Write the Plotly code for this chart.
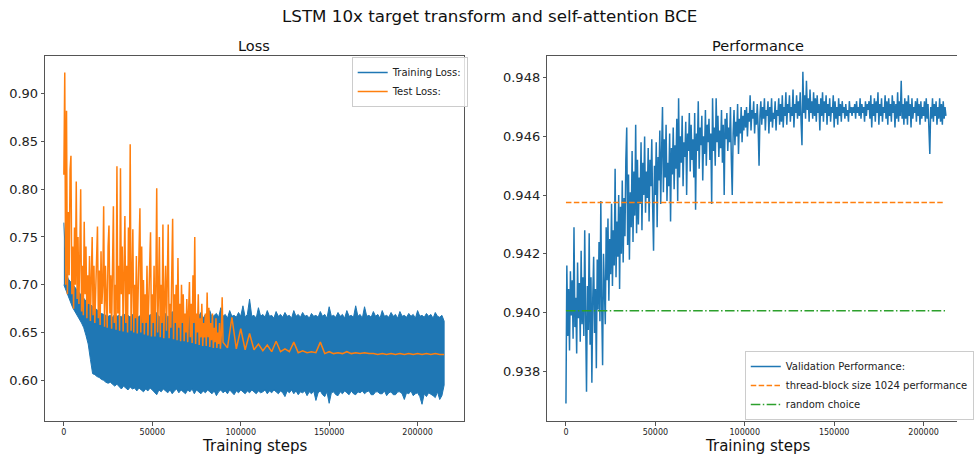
import plotly.graph_objects as go

# ---------------- data ----------------
# Training loss: dense band, read as upper / lower envelope every 1250 steps
train_steps = list(range(0, 215001, 1250))
train_upper = [
    0.765, 0.712, 0.706, 0.703, 0.700, 0.697, 0.694, 0.691, 0.688, 0.686,
    0.683, 0.681, 0.679, 0.677, 0.675, 0.673, 0.672, 0.670, 0.669, 0.668,
    0.667, 0.668, 0.666, 0.669, 0.667, 0.668, 0.666, 0.670, 0.667, 0.668,
    0.666, 0.669, 0.667, 0.668, 0.666, 0.670, 0.667, 0.668, 0.666, 0.669,
    0.667, 0.668, 0.671, 0.666, 0.668, 0.667, 0.670, 0.666, 0.668, 0.672,
    0.666, 0.669, 0.667, 0.674, 0.666, 0.668, 0.670, 0.667, 0.672, 0.666,
    0.668, 0.667, 0.671, 0.665, 0.669, 0.667, 0.673, 0.666, 0.668, 0.670,
    0.666, 0.676, 0.667, 0.669, 0.665, 0.673, 0.667, 0.668, 0.666, 0.671,
    0.667, 0.678, 0.666, 0.669, 0.685, 0.667, 0.668, 0.665, 0.676, 0.667,
    0.669, 0.666, 0.673, 0.667, 0.668, 0.665, 0.672, 0.667, 0.669, 0.666,
    0.671, 0.667, 0.668, 0.665, 0.673, 0.667, 0.669, 0.666, 0.671, 0.667,
    0.668, 0.665, 0.670, 0.667, 0.668, 0.666, 0.672, 0.667, 0.669, 0.665,
    0.677, 0.667, 0.668, 0.666, 0.671, 0.667, 0.669, 0.665, 0.673, 0.667,
    0.668, 0.666, 0.678, 0.667, 0.669, 0.665, 0.677, 0.667, 0.668, 0.666,
    0.672, 0.667, 0.669, 0.665, 0.673, 0.667, 0.668, 0.666, 0.671, 0.667,
    0.669, 0.665, 0.672, 0.667, 0.668, 0.666, 0.670, 0.667, 0.669, 0.665,
    0.673, 0.667, 0.668, 0.666, 0.670, 0.667, 0.669, 0.665, 0.671, 0.667,
    0.666, 0.668, 0.662,
]
train_lower = [
    0.700, 0.694, 0.688, 0.682, 0.676, 0.672, 0.668, 0.664, 0.660, 0.655,
    0.647, 0.638, 0.622, 0.607, 0.606, 0.604, 0.603, 0.601, 0.600, 0.598,
    0.597, 0.598, 0.596, 0.594, 0.596, 0.593, 0.591, 0.594, 0.592, 0.590,
    0.593, 0.591, 0.592, 0.589, 0.592, 0.590, 0.588, 0.591, 0.589, 0.592,
    0.590, 0.588, 0.585, 0.590, 0.588, 0.591, 0.589, 0.587, 0.590, 0.586,
    0.589, 0.591, 0.587, 0.590, 0.588, 0.586, 0.590, 0.588, 0.591, 0.586,
    0.590, 0.588, 0.586, 0.589, 0.587, 0.590, 0.588, 0.586, 0.589, 0.584,
    0.588, 0.590, 0.587, 0.589, 0.586, 0.590, 0.588, 0.585, 0.589, 0.587,
    0.590, 0.588, 0.586, 0.589, 0.587, 0.590, 0.588, 0.586, 0.589, 0.587,
    0.588, 0.590, 0.586, 0.589, 0.587, 0.590, 0.588, 0.586, 0.589, 0.587,
    0.583, 0.589, 0.587, 0.590, 0.586, 0.589, 0.585, 0.588, 0.587, 0.589,
    0.584, 0.588, 0.586, 0.589, 0.579, 0.587, 0.589, 0.585, 0.583, 0.588,
    0.576, 0.587, 0.588, 0.585, 0.584, 0.588, 0.586, 0.589, 0.587, 0.585,
    0.589, 0.586, 0.585, 0.588, 0.587, 0.589, 0.586, 0.588, 0.589, 0.585,
    0.585, 0.588, 0.588, 0.586, 0.586, 0.589, 0.584, 0.587, 0.588, 0.585,
    0.585, 0.588, 0.588, 0.586, 0.580, 0.587, 0.586, 0.589, 0.584, 0.586,
    0.587, 0.583, 0.575, 0.586, 0.583, 0.587, 0.586, 0.584, 0.582, 0.588,
    0.580, 0.584, 0.595,
]

# Test loss: every 500 steps up to 89500, then every 2500 steps
test_steps = list(range(0, 90000, 500)) + list(range(90000, 215001, 2500))
test_loss = [
    # 0 - 9500
    0.815, 0.922, 0.700, 0.882, 0.690, 0.776, 0.710, 0.820, 0.835, 0.690,
    0.740, 0.675, 0.760, 0.700, 0.808, 0.685, 0.750, 0.680, 0.730, 0.800,
    # 10000 - 19500
    0.672, 0.720, 0.668, 0.766, 0.690, 0.740, 0.665, 0.710, 0.680, 0.730,
    0.662, 0.700, 0.750, 0.668, 0.720, 0.660, 0.690, 0.740, 0.761, 0.665,
    # 20000 - 29500
    0.715, 0.658, 0.735, 0.680, 0.700, 0.782, 0.656, 0.720, 0.690, 0.655,
    0.740, 0.762, 0.670, 0.710, 0.654, 0.730, 0.782, 0.660, 0.700, 0.653,
    # 30000 - 39500
    0.824, 0.670, 0.720, 0.652, 0.822, 0.690, 0.740, 0.651, 0.700, 0.772,
    0.660, 0.720, 0.650, 0.760, 0.690, 0.847, 0.652, 0.710, 0.758, 0.650,
    # 40000 - 49500
    0.700, 0.665, 0.730, 0.649, 0.690, 0.720, 0.780, 0.650, 0.740, 0.660,
    0.705, 0.648, 0.690, 0.660, 0.720, 0.647, 0.680, 0.700, 0.755, 0.646,
    # 50000 - 59500
    0.690, 0.660, 0.720, 0.646, 0.700, 0.801, 0.650, 0.690, 0.750, 0.645,
    0.700, 0.660, 0.763, 0.644, 0.690, 0.720, 0.652, 0.700, 0.763, 0.644,
    # 60000 - 69500
    0.680, 0.655, 0.710, 0.769, 0.643, 0.690, 0.660, 0.700, 0.642, 0.728,
    0.655, 0.680, 0.641, 0.700, 0.660, 0.690, 0.641, 0.670, 0.650, 0.685,
    # 70000 - 79500
    0.640, 0.675, 0.703, 0.645, 0.680, 0.639, 0.710, 0.660, 0.750, 0.638,
    0.670, 0.650, 0.690, 0.637, 0.665, 0.645, 0.680, 0.636, 0.660, 0.645,
    # 80000 - 89500
    0.670, 0.636, 0.692, 0.645, 0.676, 0.635, 0.660, 0.642, 0.670, 0.634,
    0.655, 0.640, 0.665, 0.634, 0.650, 0.638, 0.660, 0.633, 0.648, 0.687,
    # from 90000, every 2500
    0.640, 0.634, 0.666, 0.633, 0.654, 0.632, 0.649, 0.632, 0.638, 0.631,
    0.637, 0.630, 0.641, 0.630, 0.633, 0.630, 0.640, 0.629, 0.631, 0.629,
    0.630, 0.629, 0.640, 0.628, 0.630, 0.628, 0.629, 0.628, 0.630, 0.628,
    0.629, 0.628, 0.629, 0.628, 0.628, 0.627, 0.628, 0.627, 0.628, 0.627,
    0.628, 0.627, 0.628, 0.627, 0.628, 0.627, 0.628, 0.627, 0.628, 0.627,
    0.627,
]

# Validation performance every 500 steps
val_steps = list(range(0, 212501, 500))
val_perf = [
    0.9369, 0.9416, 0.9392, 0.9408, 0.9387, 0.9414, 0.9399, 0.9411, 0.9391, 0.9429,
    0.9395, 0.9405, 0.9386, 0.9417, 0.9398, 0.9410, 0.9390, 0.9421, 0.9396, 0.9412,
    0.9392, 0.9428, 0.9399, 0.9373, 0.9409, 0.9394, 0.9427, 0.9389, 0.9412, 0.9376,
    0.9405, 0.9419, 0.9393, 0.9408, 0.9381, 0.9418, 0.9401, 0.9424, 0.9397, 0.9438,
    0.9402, 0.9382, 0.9420, 0.9405, 0.9396, 0.9429, 0.9411, 0.9432, 0.9404, 0.9425,
    0.9413, 0.9437, 0.9409, 0.9428, 0.9416, 0.9449, 0.9412, 0.9431, 0.9419, 0.9440,
    0.9408, 0.9436, 0.9420, 0.9445, 0.9417, 0.9439, 0.9426, 0.9452, 0.9463, 0.9423,
    0.9447, 0.9418, 0.9441, 0.9429, 0.9455, 0.9424, 0.9448, 0.9433, 0.9464, 0.9427,
    0.9452, 0.9430, 0.9446, 0.9437, 0.9458, 0.9428, 0.9451, 0.9440, 0.9460, 0.9434,
    0.9448, 0.9439, 0.9456, 0.9431, 0.9452, 0.9443, 0.9459, 0.9436, 0.9421, 0.9450,
    0.9440, 0.9458, 0.9429, 0.9453, 0.9445, 0.9462, 0.9437, 0.9455, 0.9470, 0.9441,
    0.9459, 0.9446, 0.9464, 0.9438, 0.9451, 0.9443, 0.9461, 0.9431, 0.9456, 0.9447,
    0.9463, 0.9442, 0.9457, 0.9449, 0.9466, 0.9438, 0.9473, 0.9446, 0.9460, 0.9451,
    0.9467, 0.9443, 0.9458, 0.9453, 0.9465, 0.9440, 0.9461, 0.9455, 0.9468, 0.9448,
    0.9464, 0.9452, 0.9459, 0.9446, 0.9468, 0.9435, 0.9461, 0.9455, 0.9472, 0.9449,
    0.9463, 0.9457, 0.9467, 0.9445, 0.9460, 0.9454, 0.9469, 0.9450, 0.9464, 0.9458,
    0.9466, 0.9452, 0.9461, 0.9437, 0.9473, 0.9455, 0.9463, 0.9450, 0.9473, 0.9458,
    0.9467, 0.9453, 0.9462, 0.9456, 0.9469, 0.9451, 0.9464, 0.9440, 0.9466, 0.9459,
    0.9468, 0.9455, 0.9463, 0.9458, 0.9470, 0.9452, 0.9440, 0.9461, 0.9469, 0.9457,
    0.9465, 0.9460, 0.9471, 0.9454, 0.9466, 0.9461, 0.9470, 0.9458, 0.9467, 0.9462,
    0.9469, 0.9463, 0.9470, 0.9460, 0.9468, 0.9465, 0.9474, 0.9462, 0.9469, 0.9466,
    0.9472, 0.9461, 0.9468, 0.9464, 0.9471, 0.9463, 0.9450, 0.9467, 0.9472, 0.9464,
    0.9470, 0.9466, 0.9473, 0.9462, 0.9469, 0.9467, 0.9472, 0.9461, 0.9470, 0.9465,
    0.9473, 0.9463, 0.9468, 0.9466, 0.9472, 0.9462, 0.9469, 0.9467, 0.9473, 0.9464,
    0.9471, 0.9465, 0.9474, 0.9463, 0.9470, 0.9467, 0.9475, 0.9464, 0.9471, 0.9468,
    0.9474, 0.9465, 0.9470, 0.9467, 0.9476, 0.9463, 0.9471, 0.9468, 0.9474, 0.9466,
    0.9472, 0.9467, 0.9475, 0.9465, 0.9457, 0.9482, 0.9468, 0.9474, 0.9466, 0.9479,
    0.9469, 0.9473, 0.9465, 0.9476, 0.9468, 0.9472, 0.9466, 0.9475, 0.9467, 0.9473,
    0.9465, 0.9474, 0.9468, 0.9471, 0.9462, 0.9473, 0.9467, 0.9475, 0.9465, 0.9472,
    0.9468, 0.9474, 0.9464, 0.9471, 0.9467, 0.9473, 0.9465, 0.9470, 0.9468, 0.9474,
    0.9463, 0.9472, 0.9466, 0.9470, 0.9464, 0.9473, 0.9467, 0.9471, 0.9465, 0.9472,
    0.9468, 0.9470, 0.9466, 0.9471, 0.9467, 0.9469, 0.9465, 0.9472, 0.9468, 0.9470,
    0.9467, 0.9470, 0.9468, 0.9471, 0.9466, 0.9472, 0.9468, 0.9470, 0.9467, 0.9473,
    0.9466, 0.9471, 0.9468, 0.9470, 0.9465, 0.9472, 0.9467, 0.9471, 0.9469, 0.9472,
    0.9466, 0.9474, 0.9463, 0.9471, 0.9467, 0.9473, 0.9465, 0.9472, 0.9468, 0.9475,
    0.9464, 0.9471, 0.9467, 0.9473, 0.9465, 0.9470, 0.9468, 0.9474, 0.9466, 0.9472,
    0.9464, 0.9473, 0.9467, 0.9471, 0.9465, 0.9474, 0.9468, 0.9472, 0.9463, 0.9471,
    0.9466, 0.9475, 0.9465, 0.9472, 0.9467, 0.9479, 0.9466, 0.9471, 0.9464, 0.9473,
    0.9466, 0.9472, 0.9464, 0.9474, 0.9467, 0.9471, 0.9463, 0.9473, 0.9466, 0.9470,
    0.9468, 0.9472, 0.9465, 0.9473, 0.9467, 0.9471, 0.9464, 0.9472, 0.9466, 0.9470,
    0.9467, 0.9472, 0.9465, 0.9473, 0.9466, 0.9471, 0.9464, 0.9454, 0.9470, 0.9466,
    0.9473, 0.9465, 0.9471, 0.9467, 0.9472, 0.9464, 0.9470, 0.9466, 0.9473, 0.9465,
    0.9471, 0.9464, 0.9472, 0.9466, 0.9470, 0.9467,
]

# reference lines
ref_steps = [0, 212000]
thread_block_perf = 0.94375
random_choice_perf = 0.94006

x_tick_vals = [0, 50000, 100000, 150000, 200000]
loss_tick_vals = [0.60, 0.65, 0.70, 0.75, 0.80, 0.85, 0.90]
perf_tick_vals = [0.938, 0.940, 0.942, 0.944, 0.946, 0.948]

BLUE = "#1f77b4"
ORANGE = "#ff7f0e"
GREEN = "#2ca02c"
FONT = "DejaVu Sans"

# ---------------- figure ----------------
fig = go.Figure()

band_x = train_steps + train_steps[::-1]
band_y = train_upper + train_lower[::-1]
fig.add_trace(go.Scatter(x=band_x, y=band_y, mode="lines", fill="toself",
                         fillcolor=BLUE, line=dict(color=BLUE, width=1),
                         showlegend=False, hoverinfo="skip",
                         xaxis="x", yaxis="y"))
fig.add_trace(go.Scatter(x=[None], y=[None], mode="lines", name="Training Loss:",
                         line=dict(color=BLUE, width=1.5),
                         xaxis="x", yaxis="y", legend="legend"))
fig.add_trace(go.Scatter(x=test_steps, y=test_loss, mode="lines", name="Test Loss:",
                         line=dict(color=ORANGE, width=1.5),
                         xaxis="x", yaxis="y", legend="legend"))

fig.add_trace(go.Scatter(x=val_steps, y=val_perf, mode="lines",
                         name="Validation Performance:",
                         line=dict(color=BLUE, width=1.5),
                         xaxis="x2", yaxis="y2", legend="legend2"))
fig.add_trace(go.Scatter(x=ref_steps, y=[thread_block_perf] * len(ref_steps), mode="lines",
                         name="thread-block size 1024 performance",
                         line=dict(color=ORANGE, width=1.5, dash="5.5px,2.4px"),
                         xaxis="x2", yaxis="y2", legend="legend2"))
fig.add_trace(go.Scatter(x=ref_steps, y=[random_choice_perf] * len(ref_steps), mode="lines",
                         name="random choice",
                         line=dict(color=GREEN, width=1.5, dash="9.6px,2.4px,1.5px,2.4px"),
                         xaxis="x2", yaxis="y2", legend="legend2"))

W, H = 974, 460
y_dom = [1 - 421 / H, 1 - 56 / H]

axis_common = dict(showgrid=False, zeroline=False, showline=True, linecolor="#555",
                   linewidth=1, ticks="outside", ticklen=3.5, tickwidth=0.8,
                   tickcolor="#555", automargin=False)

fig.update_layout(
    width=W, height=H,
    margin=dict(l=0, r=0, t=0, b=0),
    template="none",
    paper_bgcolor="white", plot_bgcolor="white",
    font=dict(family=FONT, color="#222"),
    xaxis=dict(domain=[46 / W, 472 / W], range=[-10560, 226100], anchor="y",
               mirror=True, tickvals=x_tick_vals, tickformat="d",
               tickfont=dict(size=8, family=FONT), **axis_common),
    yaxis=dict(domain=y_dom, range=[0.5575, 0.9393], anchor="x",
               mirror=True, tickvals=loss_tick_vals, tickformat=".2f",
               tickfont=dict(size=13, family=FONT), **axis_common),
    xaxis2=dict(domain=[557 / W, 1.0], range=[-10440, 218700], anchor="y2",
                mirror=True, tickvals=x_tick_vals, tickformat="d",
                tickfont=dict(size=8, family=FONT), **axis_common),
    yaxis2=dict(domain=y_dom, range=[0.93630, 0.94874], anchor="x2",
                mirror=False, tickvals=perf_tick_vals, tickformat=".3f",
                tickfont=dict(size=13, family=FONT), **axis_common),
    legend=dict(x=476 / W, xanchor="right", y=1 - 57 / H, yanchor="top",
                bgcolor="rgba(255,255,255,0.8)", bordercolor="#cccccc", borderwidth=1,
                font=dict(size=10, family=FONT, color="#222"), itemwidth=30,
                tracegroupgap=0),
    legend2=dict(x=758 / W, xanchor="left", y=1 - 420 / H, yanchor="bottom",
                 bgcolor="rgba(255,255,255,0.8)", bordercolor="#cccccc", borderwidth=1,
                 font=dict(size=10, family=FONT, color="#222"), itemwidth=30,
                 tracegroupgap=0),
    showlegend=True,
)

annotations = [
    dict(text="LSTM 10x target transform and self-attention BCE", x=498 / W, y=1 - 16 / H,
         font=dict(size=16.7)),
    dict(text="Loss", x=259 / W, y=1 - 46 / H, font=dict(size=14.5)),
    dict(text="Performance", x=771 / W, y=1 - 46 / H, font=dict(size=14.5)),
    dict(text="Training steps", x=259 / W, y=1 - 446 / H, font=dict(size=15)),
    dict(text="Training steps", x=771 / W, y=1 - 446 / H, font=dict(size=15)),
]
for a in annotations:
    a.update(xref="paper", yref="paper", xanchor="center", yanchor="middle",
             showarrow=False)
    a["font"].update(family=FONT, color="#111")
fig.update_layout(annotations=annotations)

fig.write_html("out.html")
